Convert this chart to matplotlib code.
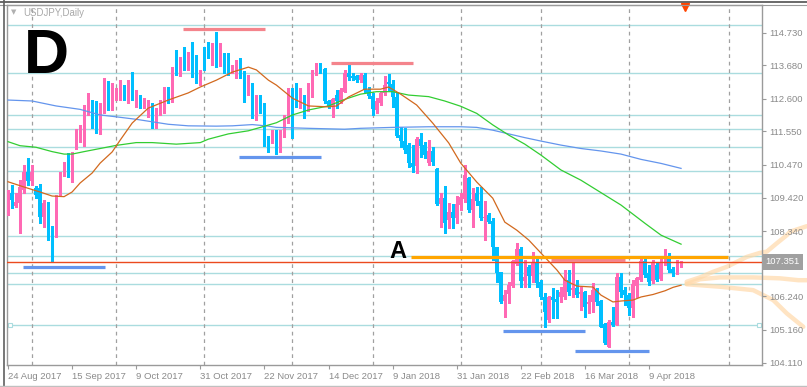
import matplotlib.pyplot as plt
from matplotlib.lines import Line2D

# USDJPY daily candles, bar 0 = 24 Aug 2017
opens = [
    109.12, 109.56, 109.16, 109.25, 109.66, 110.25, 109.96, 109.72, 109.72, 108.80,
    109.25, 108.46, 108.16, 109.50, 110.14, 110.50, 110.20, 111.04, 111.54, 111.57,
    112.15, 112.53, 112.18, 111.70, 112.18, 112.83, 112.34, 112.65, 112.72, 112.86,
    112.75, 112.83, 112.56, 112.67, 112.47, 112.24, 112.29, 111.76, 112.22, 112.18,
    112.94, 112.53, 113.88, 113.43, 113.88, 113.69, 114.01, 113.69, 113.14, 114.11,
    114.11, 114.01, 114.01, 113.69, 113.98, 113.88, 113.46, 113.47, 113.60, 113.45,
    112.86, 113.04, 112.13, 112.63, 112.42, 111.24, 111.20, 111.52, 111.17, 111.43,
    111.86, 112.53, 112.74, 112.40, 112.61, 112.24, 113.04, 113.49, 113.57, 113.56,
    112.53, 112.38, 112.72, 112.53, 112.83, 113.42, 113.33, 113.33, 113.20, 113.37,
    112.88, 112.69, 112.24, 112.47, 112.78, 113.15, 113.08, 112.67, 111.43, 111.25,
    111.11, 110.54, 110.43, 111.29, 111.11, 110.52, 110.93, 110.33, 109.21, 109.41,
    108.70, 108.96, 108.75, 109.18, 109.36, 110.04, 109.02, 109.58, 109.32, 108.75,
    108.86, 108.67, 107.82, 107.03, 106.10, 106.31, 106.57, 107.28, 107.78, 106.74,
    107.19, 106.89, 107.35, 106.71, 106.23, 105.48, 106.23, 106.17, 106.21, 106.23,
    106.76, 106.44, 106.50, 106.31, 106.39, 105.99, 106.07, 106.44, 106.10, 105.35,
    104.62, 105.42, 105.31, 106.87, 106.44, 106.28, 105.88, 106.57, 106.76, 107.39,
    106.98, 106.74, 107.25, 106.79, 107.30, 107.51, 107.11, 106.98, 107.21]
highs = [
    109.66, 109.82, 109.57, 109.98, 110.47, 110.69, 110.47, 109.79, 109.86, 109.34,
    109.28, 108.50, 109.50, 110.25, 110.56, 110.84, 110.90, 111.62, 111.76, 112.40,
    112.78, 112.56, 112.53, 112.45, 113.26, 113.18, 113.10, 112.95, 113.20, 113.04,
    113.20, 113.47, 112.88, 112.72, 112.62, 112.56, 112.45, 112.29, 112.56, 112.99,
    112.99, 113.63, 114.17, 113.94, 114.27, 114.11, 114.43, 114.01, 113.53, 114.27,
    114.43, 114.40, 114.76, 114.40, 114.07, 114.07, 113.69, 113.85, 113.91, 113.49,
    113.37, 113.11, 112.72, 112.72, 112.46, 111.40, 111.59, 111.59, 111.59, 112.08,
    112.95, 112.95, 113.11, 112.95, 112.72, 113.11, 113.53, 113.75, 113.75, 113.59,
    112.56, 112.61, 112.88, 112.95, 113.53, 113.69, 113.43, 113.37, 113.42, 113.42,
    112.99, 112.78, 112.61, 112.83, 113.33, 113.40, 113.20, 112.78, 111.70, 111.65,
    111.17, 111.11, 111.38, 111.49, 111.22, 111.27, 111.06, 110.36, 109.56, 109.79,
    109.23, 109.21, 109.47, 109.56, 110.47, 110.09, 109.72, 109.77, 109.77, 109.32,
    108.91, 108.75, 107.84, 107.03, 106.44, 106.71, 107.41, 107.95, 107.84, 107.41,
    107.25, 107.68, 107.50, 106.76, 106.34, 106.25, 106.50, 106.44, 106.55, 107.09,
    107.09, 107.30, 106.76, 106.55, 106.42, 106.28, 106.66, 106.50, 106.12, 105.37,
    105.48, 105.91, 106.99, 106.98, 106.55, 106.34, 106.76, 106.87, 107.43, 107.46,
    107.25, 107.41, 107.35, 107.43, 107.78, 107.64, 107.19, 107.41, 107.39]
lows = [
    108.86, 109.08, 109.11, 108.28, 109.57, 109.82, 109.82, 109.40, 108.61, 108.48,
    108.05, 107.34, 108.15, 109.47, 110.10, 110.09, 109.93, 111.00, 111.22, 111.08,
    112.08, 111.65, 111.49, 111.47, 112.15, 112.24, 112.24, 112.56, 112.56, 112.56,
    112.46, 112.56, 112.34, 112.29, 112.29, 112.02, 111.65, 111.65, 112.08, 112.13,
    112.45, 112.50, 113.37, 113.33, 113.53, 113.53, 113.30, 113.11, 113.04, 113.53,
    113.91, 113.69, 113.62, 113.66, 113.43, 113.37, 113.43, 113.27, 113.27, 112.50,
    112.72, 111.98, 111.92, 112.14, 111.09, 110.90, 111.17, 110.82, 110.90, 111.37,
    111.82, 111.34, 112.34, 112.30, 111.98, 112.21, 112.67, 113.37, 113.43, 112.46,
    112.29, 112.02, 112.30, 112.46, 112.82, 113.20, 113.20, 113.15, 113.15, 112.83,
    112.61, 112.08, 112.13, 112.40, 112.72, 112.88, 112.34, 111.38, 111.04, 110.84,
    110.41, 110.25, 110.20, 110.73, 110.68, 110.47, 110.47, 109.18, 108.48, 108.29,
    108.43, 108.43, 108.59, 109.02, 109.29, 108.96, 108.46, 109.18, 108.70, 108.05,
    108.61, 107.41, 106.71, 106.02, 105.58, 106.02, 106.55, 107.25, 106.55, 106.55,
    106.55, 106.71, 106.55, 106.17, 105.26, 105.42, 105.53, 105.53, 106.07, 106.17,
    106.28, 106.23, 106.23, 105.80, 105.58, 105.69, 105.74, 105.96, 105.24, 104.70,
    104.60, 105.28, 105.31, 106.23, 105.96, 105.64, 105.56, 106.23, 106.74, 106.87,
    106.60, 106.66, 106.74, 106.76, 107.25, 107.03, 106.89, 106.96, 107.17]
closes = [
    109.61, 109.34, 109.29, 109.77, 110.25, 109.96, 110.25, 109.50, 108.80, 109.23,
    108.43, 107.82, 109.41, 110.18, 110.50, 110.22, 110.84, 111.56, 111.62, 112.21,
    112.47, 111.97, 111.70, 112.24, 112.83, 112.34, 112.53, 112.78, 112.85, 112.75,
    112.86, 112.61, 112.69, 112.45, 112.53, 112.53, 111.76, 112.22, 112.53, 112.94,
    112.53, 113.50, 113.53, 113.88, 113.75, 113.98, 113.69, 113.14, 113.43, 113.62,
    114.07, 114.11, 113.69, 114.07, 113.88, 113.43, 113.59, 113.60, 113.45, 112.86,
    113.08, 112.05, 112.63, 112.40, 111.17, 111.20, 111.49, 111.09, 111.47, 111.92,
    112.53, 112.18, 112.40, 112.61, 112.29, 113.07, 113.47, 113.58, 113.54, 112.53,
    112.34, 112.59, 112.53, 112.88, 113.42, 113.31, 113.26, 113.20, 113.37, 112.88,
    112.69, 112.26, 112.54, 112.78, 113.04, 113.08, 112.67, 111.40, 111.25, 110.95,
    110.52, 110.41, 111.29, 111.08, 110.79, 110.93, 110.57, 109.21, 109.41, 108.59,
    108.96, 108.75, 109.21, 109.43, 110.14, 109.02, 109.39, 109.32, 108.75, 108.80,
    108.64, 107.82, 107.00, 106.07, 106.28, 106.60, 107.39, 107.78, 106.74, 106.87,
    106.89, 107.35, 106.68, 106.23, 105.74, 106.23, 106.12, 106.07, 106.39, 106.82,
    106.39, 106.50, 106.28, 106.39, 105.90, 106.07, 106.44, 106.07, 105.26, 104.73,
    105.42, 105.31, 106.87, 106.39, 106.28, 105.88, 106.63, 106.82, 107.39, 106.93,
    106.71, 107.30, 106.76, 107.32, 107.35, 107.09, 106.98, 107.25, 107.35]

last_price = 107.351

# moving averages (bar index, price)
ma_fast_x = [0, 4, 8, 11, 14, 16, 18, 21, 23, 26, 28, 31, 35, 40, 45, 48, 52, 56, 60, 62,
             65, 67, 71, 75, 80, 82, 85, 89, 93, 95, 98, 102, 106, 110, 113, 117, 121, 124,
             127, 130, 134, 137, 139, 142, 146, 148, 151, 153, 156, 158, 161, 164, 166, 168]
ma_fast = [109.93, 109.76, 109.60, 109.47, 109.45, 109.60, 109.89, 110.21, 110.53, 110.89,
           111.27, 111.82, 112.30, 112.56, 112.79, 112.98, 113.20, 113.46, 113.62, 113.53,
           113.20, 113.04, 112.62, 112.37, 112.34, 112.37, 112.66, 112.91, 112.91, 112.98,
           112.75, 112.40, 111.82, 111.18, 110.53, 109.92, 109.40, 108.63, 108.37, 108.05,
           107.50, 107.09, 106.76, 106.57, 106.54, 106.28, 106.06, 106.09, 106.12, 106.22,
           106.30, 106.42, 106.53, 106.60]
ma_mid_x = [0, 3, 7, 11, 14, 16, 19, 23, 27, 32, 36, 42, 48, 50, 55, 60, 63, 67, 71, 75,
            80, 84, 88, 92, 96, 100, 105, 109, 113, 117, 121, 125, 129, 133, 138, 143, 147,
            153, 159, 163, 168]
ma_mid = [111.22, 111.09, 111.04, 110.90, 110.82, 110.82, 110.90, 111.00, 111.10, 111.19,
          111.19, 111.14, 111.19, 111.30, 111.47, 111.57, 111.68, 111.83, 112.08, 112.24,
          112.37, 112.58, 112.75, 112.83, 112.83, 112.72, 112.67, 112.53, 112.36, 112.13,
          111.76, 111.43, 111.14, 110.79, 110.31, 109.98, 109.66, 109.18, 108.59, 108.21,
          107.92]
ma_slow_x = [0, 6, 12, 18, 23, 27, 32, 36, 40, 45, 52, 56, 61, 65, 67, 75, 84, 88, 96, 105,
             113, 117, 121, 125, 129, 133, 138, 143, 148, 153, 158, 163, 168]
ma_slow = [112.56, 112.53, 112.37, 112.26, 112.08, 112.02, 111.94, 111.86, 111.78, 111.73,
           111.72, 111.73, 111.77, 111.72, 111.68, 111.65, 111.62, 111.65, 111.68, 111.70,
           111.70, 111.68, 111.59, 111.47, 111.35, 111.24, 111.11, 111.00, 110.92, 110.82,
           110.65, 110.52, 110.36]

# drawn objects
grid_levels = [114.98, 113.43, 112.08, 111.63, 111.05, 110.27, 109.57, 108.18, 107.54,
               106.99, 106.64, 105.31]
res_levels = [114.86, 113.76, 107.41]
res_from = [43.7, 80.6, 135.5]
res_to = [64.2, 101.0, 154.0]
sup_levels = [107.18, 110.73, 105.13, 104.48]
sup_from = [3.7, 57.7, 123.5, 141.5]
sup_to = [24.2, 78.1, 144.0, 160.0]
line_a = 107.51
line_a_from, line_a_to = 100.6, 179.7

fan_x = [[169.4, 172.7, 176.0, 179.4, 184.4, 187.7, 189.4, 191.9, 194.4, 195.2, 199.4],
         [169.4, 172.7, 177.7, 186.0, 192.7, 197.3, 199.4],
         [169.4, 177.7, 186.0, 191.0, 194.4, 198.5]]
fan_y = [[106.71, 106.85, 107.03, 107.19, 107.51, 107.64, 107.68, 107.95, 108.21, 108.32, 108.50],
         [106.64, 106.79, 106.85, 106.85, 106.82, 106.76, 106.76],
         [106.63, 106.55, 106.44, 106.12, 105.69, 105.26]]

price_ticks = [114.730, 113.680, 112.600, 111.550, 110.470, 109.420, 108.340,
               106.240, 105.160, 104.110]
date_ticks = [0, 16, 32, 48, 64, 80, 96, 112, 128, 144, 160]
date_labels = ['24 Aug 2017', '15 Sep 2017', '9 Oct 2017', '31 Oct 2017', '22 Nov 2017',
               '14 Dec 2017', '9 Jan 2018', '31 Jan 2018', '22 Feb 2018', '16 Mar 2018',
               '9 Apr 2018']
month_starts = [6, 27, 49, 71, 91, 113, 133, 155, 180]

plt.rcParams['font.family'] = ['Liberation Sans', 'DejaVu Sans']

W, H = 807, 387
fig = plt.figure(figsize=(W / 100, H / 100), dpi=100)
ax = fig.add_axes([7 / W, 22 / H, 755 / W, 360 / H])
ax.set_xlim(-0.25, 188.2)
ax.set_ylim(104.03, 115.62)

for lv in grid_levels:
    ax.axhline(lv, color='#aadcdf', lw=1.0, zorder=1)
for m in month_starts:
    ax.axvline(m, color='#a0a0a0', lw=0.9, ls=(0, (3, 3)), zorder=1)
ax.plot([0.5, 187.5], [105.31, 105.31], ls='none', marker='s', ms=3.5,
        mfc='white', mec='#aadcdf', mew=0.8, zorder=2, clip_on=False)

up_col, dn_col = '#ff69b4', '#00bfff'
for i in range(len(closes)):
    c = up_col if closes[i] >= opens[i] else dn_col
    ax.vlines(i, lows[i], highs[i], color=c, lw=1.0, zorder=3, antialiased=False)
    body = closes[i] - opens[i]
    if abs(body) < 0.035:
        body = 0.035 if body >= 0 else -0.035
    ax.bar(i, body, bottom=opens[i], width=0.78, color=c, lw=0, zorder=3,
           antialiased=False)

ax.plot(ma_slow_x, ma_slow, color='#6495ed', lw=0.9, zorder=4)
ax.plot(ma_mid_x, ma_mid, color='#32cd32', lw=0.9, zorder=4)
ax.plot(ma_fast_x, ma_fast, color='#d2691e', lw=0.9, zorder=4)

ax.axhline(last_price, color='#eb4a1e', lw=1.0, zorder=5)
ax.hlines(res_levels, res_from, res_to, color='#f4848c', lw=2.3, zorder=5)
ax.hlines(sup_levels, sup_from, sup_to, color='#6495ed', lw=2.3, zorder=5)
ax.hlines(line_a, line_a_from, line_a_to, color='#ffa500', lw=2.3, zorder=6)

for fx, fy in zip(fan_x, fan_y):
    ax.plot(fx, fy, color='#ffd9aa', lw=3.2, alpha=0.7, solid_capstyle='round',
            clip_on=False, zorder=1.5)

ax.text(9.5, 113.95, 'D', fontsize=45, fontweight='bold', color='black',
        ha='center', va='center', zorder=7)
ax.text(97.2, 107.68, 'A', fontsize=17, fontweight='bold', color='black',
        ha='center', va='center', zorder=7)

ax.plot([169.1], [0.994], marker='v', ms=6, color='#ff4500',
        transform=ax.get_xaxis_transform(), clip_on=False, zorder=8)

for s in ax.spines.values():
    s.set_color('#9a9a9a')
    s.set_linewidth(1.0)

ax.yaxis.tick_right()
ax.set_yticks(price_ticks)
ax.set_yticklabels([f'{p:.3f}' for p in price_ticks])
ax.tick_params(axis='y', direction='out', length=3, width=0.8, pad=2,
               colors='#9a9a9a', labelsize=6.8, labelcolor='#8a8a8a')
ax.set_xticks(date_ticks)
ax.set_xticklabels(date_labels, ha='left')
ax.tick_params(axis='x', direction='out', length=3, width=0.8, pad=2,
               colors='#9a9a9a', labelsize=6.8, labelcolor='#8a8a8a')

ax.text(1.0 + 3 / 755, last_price, f'{last_price:.3f}', transform=ax.get_yaxis_transform(),
        ha='left', va='center', fontsize=6.8, color='white', zorder=9,
        bbox=dict(boxstyle='square,pad=0.35', facecolor='#a0a0a0', edgecolor='none'))

fig.text(14 / W, 1 - 12 / H, '\u25bc', fontsize=5, color='#b0b0b0',
         family=['DejaVu Sans'], ha='center', va='center')
fig.text(23 / W, 1 - 12.7 / H, 'USDJPY,Daily', fontsize=6.9, color='#a8a8a8',
         ha='left', va='center')

# terminal window frame
fig.add_artist(Line2D([0, 1], [1 - 1.5 / H] * 2, transform=fig.transFigure,
                      color='#505050', lw=1.2))
fig.add_artist(Line2D([0, 1], [1 - 4.5 / H] * 2, transform=fig.transFigure,
                      color='#9a9a9a', lw=0.8))
fig.add_artist(Line2D([3.5 / W] * 2, [0, 1], transform=fig.transFigure,
                      color='#606060', lw=1.2))
fig.add_artist(Line2D([0, 1], [1.5 / H] * 2, transform=fig.transFigure,
                      color='#c0c0c0', lw=1.0))

fig.savefig('out.png', dpi=100)
